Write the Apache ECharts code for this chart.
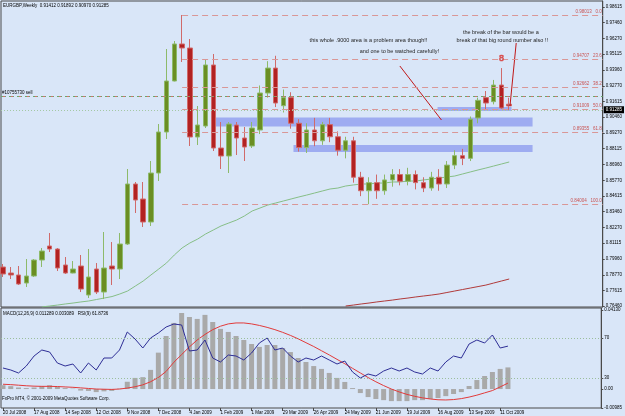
<!DOCTYPE html>
<html>
<head>
<meta charset="utf-8">
<script src="https://cdn.jsdelivr.net/npm/echarts@6/dist/echarts.min.js"></script>
<style>
  html, body { margin: 0; padding: 0; background: #D9E6F8; }
  #chart { width: 625px; height: 416px; }
</style>
</head>
<body>
<div id="chart"></div>
<script>
// weekly EURGBP, one row per week from 20 Jul 2008: [open, close, low, high]
const bars = [
  [0.79349, 0.78830, 0.78608, 0.79571],
  [0.78904, 0.78756, 0.78459, 0.79349],
  [0.78756, 0.78089, 0.78015, 0.79423],
  [0.78163, 0.78682, 0.77867, 0.79941],
  [0.78682, 0.79867, 0.78608, 0.79941],
  [0.79867, 0.80534, 0.79349, 0.80756],
  [0.80905, 0.80682, 0.80460, 0.81868],
  [0.80682, 0.79274, 0.79052, 0.80756],
  [0.79497, 0.78904, 0.78830, 0.80090],
  [0.78904, 0.79200, 0.78880, 0.79793],
  [0.79423, 0.77718, 0.77496, 0.80238],
  [0.77274, 0.78608, 0.77051, 0.80682],
  [0.79200, 0.77496, 0.77348, 0.79645],
  [0.77496, 0.79274, 0.76977, 0.81942],
  [0.79423, 0.79200, 0.78015, 0.81201],
  [0.79200, 0.81053, 0.78459, 0.81868],
  [0.81053, 0.85499, 0.80979, 0.86610],
  [0.85499, 0.84313, 0.83350, 0.85647],
  [0.84387, 0.82683, 0.82313, 0.85647],
  [0.82683, 0.86314, 0.82387, 0.87203],
  [0.86314, 0.89352, 0.85721, 0.89945],
  [0.89352, 0.93131, 0.88833, 0.95502],
  [0.93131, 0.95873, 0.93100, 0.96095],
  [0.95873, 0.95576, 0.94539, 0.98022],
  [0.95576, 0.88982, 0.88315, 0.96243],
  [0.88982, 0.89871, 0.88388, 0.91279],
  [0.89797, 0.94317, 0.89648, 0.94687],
  [0.94317, 0.88166, 0.87944, 0.95132],
  [0.88166, 0.87574, 0.86610, 0.90093],
  [0.87574, 0.89945, 0.86314, 0.90093],
  [0.89871, 0.88907, 0.87648, 0.90093],
  [0.88907, 0.88240, 0.87203, 0.89722],
  [0.88315, 0.89648, 0.88166, 0.90093],
  [0.89500, 0.92242, 0.89200, 0.92800],
  [0.92240, 0.94090, 0.91900, 0.94600],
  [0.94090, 0.91500, 0.91200, 0.95000],
  [0.91300, 0.91900, 0.90800, 0.92500],
  [0.91900, 0.90000, 0.89600, 0.92300],
  [0.90000, 0.88200, 0.87900, 0.90300],
  [0.88200, 0.89500, 0.87800, 0.90000],
  [0.89500, 0.88700, 0.88300, 0.90400],
  [0.88700, 0.89900, 0.88400, 0.90100],
  [0.89900, 0.89000, 0.88600, 0.90400],
  [0.89000, 0.88000, 0.87600, 0.89400],
  [0.88000, 0.88700, 0.87400, 0.89000],
  [0.88700, 0.86000, 0.85600, 0.89000],
  [0.86000, 0.85000, 0.84600, 0.86400],
  [0.85000, 0.85600, 0.84004, 0.86000],
  [0.85600, 0.85000, 0.84400, 0.86200],
  [0.85000, 0.85800, 0.84700, 0.86200],
  [0.85800, 0.86200, 0.85300, 0.86600],
  [0.86200, 0.85700, 0.85400, 0.86600],
  [0.85700, 0.86200, 0.85400, 0.86700],
  [0.86200, 0.85600, 0.85100, 0.86500],
  [0.85600, 0.85200, 0.84900, 0.86000],
  [0.85200, 0.86000, 0.85000, 0.86400],
  [0.86000, 0.85500, 0.85000, 0.86600],
  [0.85500, 0.86900, 0.85200, 0.87200],
  [0.86900, 0.87600, 0.86600, 0.88000],
  [0.87600, 0.87400, 0.86900, 0.88100],
  [0.87400, 0.90300, 0.87200, 0.90500],
  [0.90390, 0.91700, 0.90000, 0.91900],
  [0.91900, 0.91500, 0.90980, 0.92390],
  [0.91600, 0.92830, 0.91400, 0.93210],
  [0.92830, 0.91130, 0.91050, 0.94090],
  [0.91412, 0.91285, 0.90970, 0.91892]
];

// green moving average, from week 5
const maGreenStart = 5;
const maGreen = [
  0.7639, 0.7646, 0.7653, 0.7661, 0.7668, 0.7676, 0.7683, 0.7694, 0.7705, 0.7716,
  0.7735, 0.7757, 0.7794, 0.7831, 0.7876, 0.7920, 0.7965, 0.8024, 0.8076, 0.8113,
  0.8142, 0.8179, 0.8209, 0.8239, 0.8261, 0.8283, 0.8313, 0.8350, 0.8372, 0.8394,
  0.8409, 0.8424, 0.8439, 0.8454, 0.8468, 0.8483, 0.8498, 0.8513, 0.8520, 0.8535,
  0.8543, 0.8550, 0.8550, 0.8557, 0.8557, 0.8565, 0.8565, 0.8572, 0.8572, 0.8580,
  0.8587, 0.8594, 0.8602, 0.8609, 0.8624, 0.8639, 0.8654, 0.8668, 0.8683, 0.8698,
  0.8713
];

// red moving average, from week 44
const maRedStart = 44;
const maRed = [
  0.7646, 0.7653, 0.7661, 0.7668, 0.7676, 0.7683, 0.7690, 0.7698, 0.7705, 0.7713,
  0.7720, 0.7727, 0.7735, 0.7746, 0.7757, 0.7768, 0.7779, 0.7790, 0.7801, 0.7816,
  0.7831, 0.7846
];

// MACD(12,26,9) main (histogram) and signal, RSI(9)
const macd = [
  0.0020, 0.0015, 0.0008, 0.0005, 0.0008, 0.0015, 0.0020, 0.0012, 0.0005, 0.0002,
  -0.0008, -0.0010, -0.0016, -0.0012, -0.0010, 0.0002, 0.0038, 0.0058, 0.0062, 0.0100,
  0.0190, 0.0277, 0.0345, 0.0397, 0.0376, 0.0366, 0.0387, 0.0350, 0.0314, 0.0298,
  0.0277, 0.0256, 0.0235, 0.0220, 0.0230, 0.0230, 0.0214, 0.0193, 0.0162, 0.0141,
  0.0120, 0.0105, 0.0084, 0.0058, 0.0037, 0.0005, -0.0021, -0.0042, -0.0052, -0.0058,
  -0.0063, -0.0063, -0.0063, -0.0058, -0.0058, -0.0052, -0.0047, -0.0037, -0.0026, -0.0016,
  0.0016, 0.0047, 0.0068, 0.0089, 0.0105, 0.011289
];
const signal = [
  0.0025, 0.0023, 0.0020, 0.0017, 0.0015, 0.0014, 0.0014, 0.0013, 0.0011, 0.0009,
  0.0006, 0.0003, 0.0000, -0.0001, -0.0002, 0.0000, 0.0005, 0.0012, 0.0022, 0.0038,
  0.0060, 0.0092, 0.0140, 0.0180, 0.0220, 0.0256, 0.0285, 0.0310, 0.0328, 0.0340,
  0.0345, 0.0345, 0.0340, 0.0332, 0.0322, 0.0310, 0.0296, 0.0280, 0.0262, 0.0242,
  0.0222, 0.0200, 0.0178, 0.0155, 0.0132, 0.0108, 0.0084, 0.0060, 0.0038, 0.0018,
  0.0000, -0.0015, -0.0028, -0.0038, -0.0046, -0.0052, -0.0056, -0.0057, -0.0055, -0.0050,
  -0.0042, -0.0032, -0.0020, -0.0008, 0.0011, 0.003089
];
const rsi = [
  40, 38, 35, 42, 52, 58, 56, 45, 42, 44,
  35, 45, 38, 50, 50, 58, 76, 69, 60, 70,
  75, 81, 84, 83, 57, 58, 68, 50, 46, 53,
  52, 48, 55, 65, 70, 58, 60, 52, 46, 50,
  48, 52, 48, 44, 47, 36, 30, 34, 32, 37,
  40, 37, 40, 36, 34, 40, 37, 46, 52, 50,
  64, 68, 65, 73, 60, 61.8736
];

// axis ticks
const tickWeeks = [0, 4, 8, 12, 16, 20, 24, 28, 32, 36, 40, 44, 48, 52, 56, 60, 64];
const tickLabels = ['20 Jul 2008', '17 Aug 2008', '14 Sep 2008', '12 Oct 2008', '9 Nov 2008',
  '7 Dec 2008', '4 Jan 2009', '1 Feb 2009', '1 Mar 2009', '29 Mar 2009', '26 Apr 2009',
  '24 May 2009', '21 Jun 2009', '19 Jul 2009', '16 Aug 2009', '13 Sep 2009', '11 Oct 2009'];
const priceTicks = [0.98615, 0.97460, 0.96270, 0.95115, 0.93960, 0.92770, 0.91615, 0.90460,
  0.89270, 0.88115, 0.86960, 0.85770, 0.84615, 0.83460, 0.82270, 0.81115, 0.79960, 0.78770,
  0.77615, 0.76460];
const macdTicks = [0.0413, 0, -0.00985];
const rsiTicks = [70, 30];

// fibonacci retracement drawn from week 23
const fibStart = 23;
const fibPrices = [0.98013, 0.94707, 0.92662, 0.91009, 0.89355, 0.84004];
const fibNames = ['0.0', '23.6', '38.2', '50.0', '61.8', '100.0'];

// order / bid lines
const sellPrice = 0.92390;
const bidPrice = 0.91285;

// shaded zones: [fromWeek, toWeek, top, bottom]
const zones = [
  [27.2, 68.0, 0.9043, 0.8976],
  [37.3, 68.0, 0.8839, 0.8787],
  [55.8, 65.3, 0.9120, 0.9091]
];

// hand-drawn pointer lines: [week1, price1, week2, price2]
const pointers = [
  [50.96, 0.94243, 56.3, 0.90242],
  [65.9, 0.95947, 65.1, 0.91279]
];

const notes = [
  { text: 'this whole .9000 area is a problem area though!!', at: [46.93, 0.96169] },
  { text: 'and one to be watched carefully!', at: [50.89, 0.95354] },
  { text: 'the break of the bar would be a', at: [63.92, 0.96762] },
  { text: 'break of that big round number also !!', at: [64.11, 0.96169] }
];

const xMin = -0.255;
const xMax = 77.01;
const FONT = 'Liberation Sans';
const tiny = 4.5;
const frame = '#4A4A4A';

const chart = echarts.init(document.getElementById('chart'));

const last = bars[bars.length - 1];
const headText = 'EURGBP,Weekly  ' + [last[0], last[3], last[2], last[1]].map(v => v.toFixed(5)).join(' ');
const macdText = 'MACD(12,26,9) ' + macd[macd.length - 1].toFixed(6) + ' ' +
  signal[signal.length - 1].toFixed(6) + '   RSI(9) ' + rsi[rsi.length - 1].toFixed(4);

const fibLines = fibPrices.map((p, k) => [
  {
    coord: [fibStart, p],
    label: {
      show: true, position: 'insideEndTop', distance: 1,
      formatter: p.toFixed(5) + '   ' + fibNames[k],
      fontSize: tiny, fontFamily: FONT, color: '#C85454'
    }
  },
  { coord: [xMax, p] }
]);

const option = {
  animation: false,
  backgroundColor: '#D9E6F8',
  textStyle: { fontFamily: FONT },
  grid: [
    { left: 1, right: 19, top: 1, height: 306, show: true, borderColor: frame, borderWidth: 1 },
    { left: 1, right: 19, top: 308, height: 100, show: true, borderColor: frame, borderWidth: 1 }
  ],
  xAxis: [
    {
      type: 'value', gridIndex: 0, min: xMin, max: xMax,
      axisLine: { show: false, onZero: false }, axisTick: { show: false },
      axisLabel: { show: false }, splitLine: { show: false }
    },
    {
      type: 'value', gridIndex: 1, min: xMin, max: xMax,
      axisLine: { show: false, onZero: false },
      axisTick: { show: true, customValues: tickWeeks, length: 3, lineStyle: { color: frame } },
      axisLabel: {
        customValues: tickWeeks,
        formatter: v => tickLabels[tickWeeks.indexOf(v)],
        fontSize: tiny, align: 'left', margin: 2, color: '#000'
      },
      splitLine: { show: false }
    }
  ],
  yAxis: [
    {
      type: 'value', gridIndex: 0, position: 'right', min: 0.76386, max: 0.99059,
      axisLine: { show: true, onZero: false, lineStyle: { color: frame } },
      axisTick: { show: true, customValues: priceTicks, length: 2, lineStyle: { color: frame } },
      axisLabel: { customValues: priceTicks, formatter: v => v.toFixed(5), fontSize: tiny, margin: 3, color: '#000' },
      splitLine: { show: false }
    },
    {
      type: 'value', gridIndex: 1, position: 'right', min: -0.0099, max: 0.0423,
      axisLine: { show: true, onZero: false, lineStyle: { color: frame } },
      axisTick: { show: true, customValues: macdTicks, length: 2, lineStyle: { color: frame } },
      axisLabel: {
        customValues: macdTicks,
        formatter: v => (v === 0 ? '0.00' : v.toFixed(5)),
        fontSize: tiny, margin: 3, color: '#000'
      },
      splitLine: { show: false }
    },
    {
      type: 'value', gridIndex: 1, position: 'right', min: 0, max: 100,
      axisLine: { show: false, onZero: false },
      axisTick: { show: true, customValues: rsiTicks, length: 2, lineStyle: { color: frame } },
      axisLabel: { customValues: rsiTicks, fontSize: tiny, margin: 3, color: '#000' },
      splitLine: { show: false }
    }
  ],
  graphic: [
    { type: 'text', left: 3, top: 3, style: { text: headText, font: tiny + 'px "' + FONT + '"', fill: '#000' } },
    { type: 'text', left: 3, top: 311, style: { text: macdText, font: tiny + 'px "' + FONT + '"', fill: '#000' } },
    { type: 'text', left: 2, top: 396, style: { text: 'FxPro MT4, \u00a9 2001-2009 MetaQuotes Software Corp.', font: tiny + 'px "' + FONT + '"', fill: '#000' } }
  ],
  series: [
    {
      type: 'line', xAxisIndex: 0, yAxisIndex: 0, z: 1,
      data: maGreen.map((v, k) => [maGreenStart + k, v]),
      symbol: 'none', lineStyle: { color: '#86BE86', width: 1 },
      markArea: {
        silent: true,
        itemStyle: { color: 'rgba(126,142,236,0.65)' },
        data: zones.map(z => [{ coord: [z[0], z[2]] }, { coord: [z[1], z[3]] }])
      }
    },
    {
      type: 'line', xAxisIndex: 0, yAxisIndex: 0, z: 2,
      data: maRed.map((v, k) => [maRedStart + k, v]),
      symbol: 'none', lineStyle: { color: '#B03A3A', width: 1 }
    },
    {
      type: 'candlestick', xAxisIndex: 0, yAxisIndex: 0, z: 3,
      barWidth: 5,
      encode: { x: 0, y: [1, 2, 3, 4] },
      data: bars.map((b, i) => [i, b[0], b[1], b[2], b[3]]),
      itemStyle: {
        color: '#6B8E23', color0: '#B22222',
        borderColor: '#8DBA6A', borderColor0: '#D06A6A', borderWidth: 1
      },
      markLine: {
        silent: true,
        symbol: ['none', 'none'],
        lineStyle: { color: '#D99797', type: [6, 4], width: 1 },
        label: { show: false },
        data: fibLines.concat([
          {
            yAxis: sellPrice,
            lineStyle: { color: '#6AAA6A', type: [5, 3], width: 1 },
            label: { show: true, position: 'insideStartTop', distance: 1, formatter: '#10755730 sell', fontSize: tiny, fontFamily: FONT, color: '#000' }
          },
          {
            yAxis: sellPrice,
            lineStyle: { color: '#D07070', type: [2, 6], dashOffset: 6, width: 1 },
            label: { show: false }
          },
          {
            yAxis: bidPrice,
            lineStyle: { color: '#A4C8A4', type: [1, 2], width: 1 },
            label: {
              show: true, position: 'end', distance: 1, formatter: bidPrice.toFixed(5),
              backgroundColor: '#000', color: '#fff', padding: [1, 2], fontSize: tiny, fontFamily: FONT
            }
          }
        ])
      },
      markPoint: {
        silent: true,
        symbol: 'circle', symbolSize: 1,
        itemStyle: { color: 'rgba(0,0,0,0)' },
        label: { show: true, position: 'inside', fontSize: 5.5, fontFamily: FONT, color: '#1E1E1E' },
        data: notes.map(n => ({ coord: n.at, label: { formatter: n.text } })).concat([
          {
            coord: [64.0, 0.94761],
            label: { formatter: '8', fontSize: 9, color: 'rgba(0,0,0,0)', textBorderColor: '#D85050', textBorderWidth: 0.7 }
          }
        ])
      }
    }
  ].concat(pointers.map(p => ({
    type: 'line', xAxisIndex: 0, yAxisIndex: 0, z: 4,
    data: [[p[0], p[1]], [p[2], p[3]]],
    symbol: 'none', lineStyle: { color: '#C01818', width: 1 }
  }))).concat([
    {
      type: 'bar', xAxisIndex: 1, yAxisIndex: 1, barWidth: 5,
      data: macd.map((v, i) => [i, v]),
      itemStyle: { color: '#A9A9A9' }
    },
    {
      type: 'line', xAxisIndex: 1, yAxisIndex: 1,
      data: signal.map((v, i) => [i, v]),
      symbol: 'none', lineStyle: { color: '#E23A3A', width: 1 }
    },
    {
      type: 'line', xAxisIndex: 1, yAxisIndex: 2,
      data: rsi.map((v, i) => [i, v]),
      symbol: 'none', lineStyle: { color: '#2E2E96', width: 1 },
      markLine: {
        silent: true, symbol: ['none', 'none'], label: { show: false },
        lineStyle: { color: '#9BBE9B', type: [1, 2], width: 1 },
        data: rsiTicks.map(v => ({ yAxis: v }))
      }
    }
  ])
};

chart.setOption(option);
</script>
</body>
</html>
